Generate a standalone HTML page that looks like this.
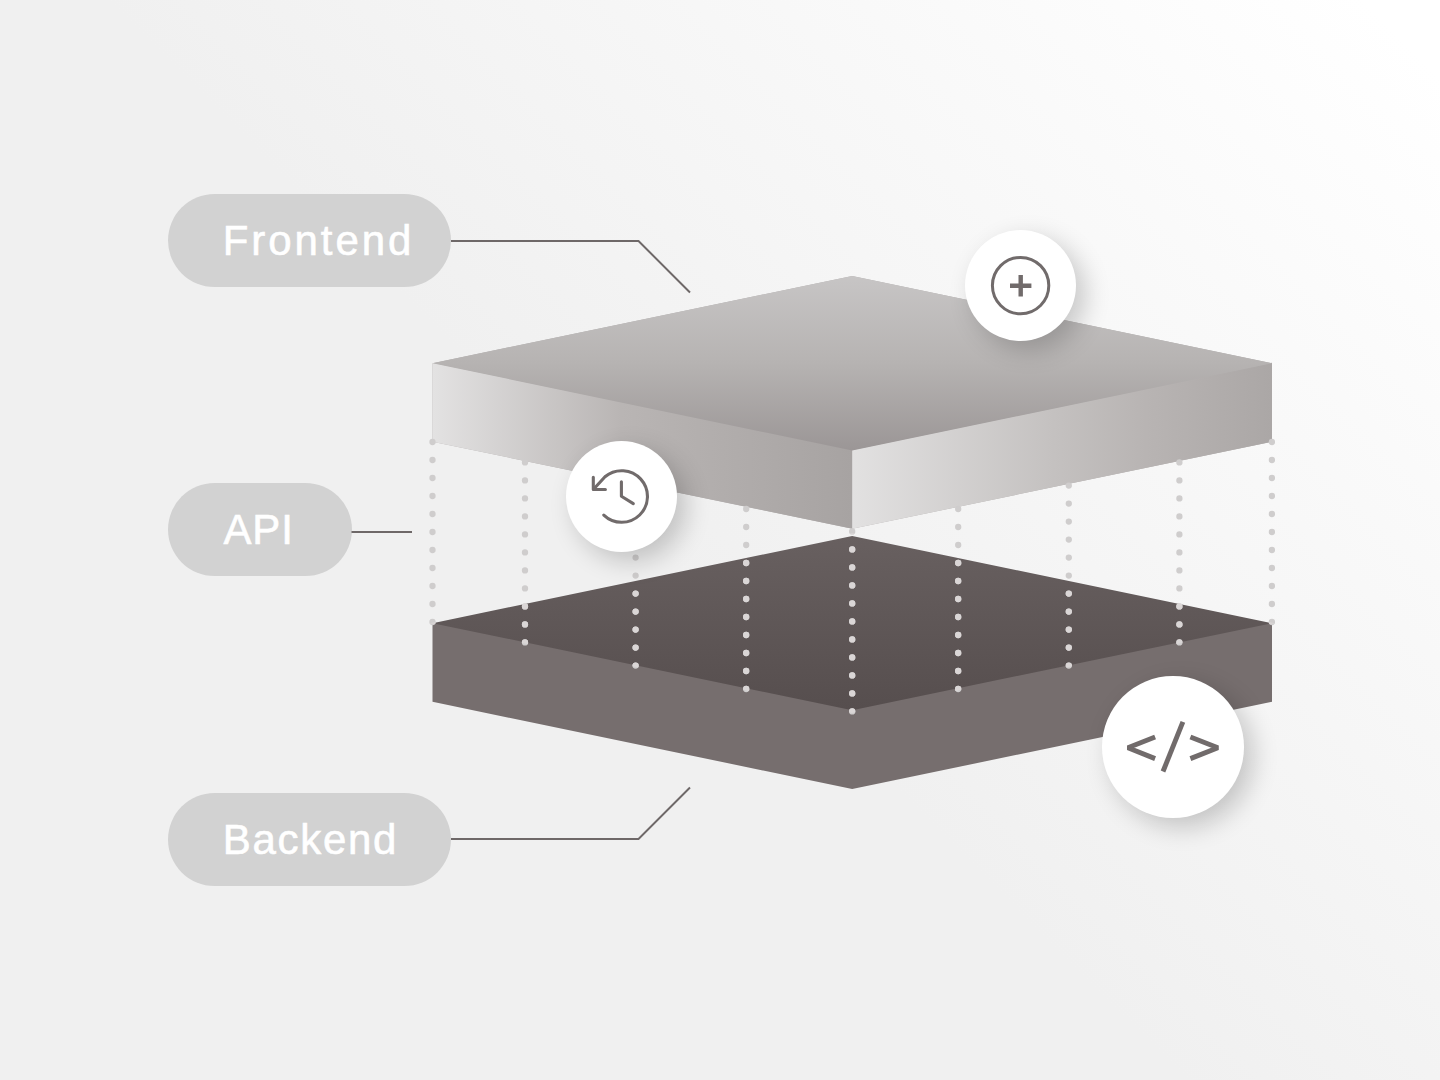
<!DOCTYPE html>
<html>
<head>
<meta charset="utf-8">
<style>
html,body{margin:0;padding:0;}
body{width:1440px;height:1080px;overflow:hidden;position:relative;
  background:linear-gradient(45deg,#f0f0f0 0%,#f0f0f0 47%,#ffffff 97%);
  font-family:"Liberation Sans",sans-serif;}
.pill{position:absolute;background:#d2d2d2;border-radius:47px;color:#fff;
  font-size:42px;line-height:93px;-webkit-text-stroke:0.6px #fff;height:93px;box-sizing:border-box;white-space:nowrap;}
.circ{position:absolute;border-radius:50%;background:#fff;
  box-shadow:9px 9px 26px rgba(0,0,0,0.20);}
.circ svg{position:absolute;left:0;top:0;}
svg.main{position:absolute;left:0;top:0;}
</style>
</head>
<body>
<div class="pill" style="left:168px;top:194px;width:283px;padding-left:54.7px;letter-spacing:2.95px;">Frontend</div>
<div class="pill" style="left:168px;top:483px;width:184px;padding-left:55.4px;letter-spacing:0.9px;">API</div>
<div class="pill" style="left:168px;top:793px;width:283px;padding-left:54.8px;letter-spacing:1.7px;">Backend</div>

<svg class="main" width="1440" height="1080" viewBox="0 0 1440 1080">
  <defs>
    <linearGradient id="topFace" x1="0" y1="276" x2="0" y2="450.5" gradientUnits="userSpaceOnUse">
      <stop offset="0" stop-color="#c7c5c5"/>
      <stop offset="0.5" stop-color="#b6b3b2"/>
      <stop offset="1" stop-color="#9b9696"/>
    </linearGradient>
    <linearGradient id="leftFace" x1="432.5" y1="0" x2="852.2" y2="0" gradientUnits="userSpaceOnUse">
      <stop offset="0" stop-color="#e3e2e2"/>
      <stop offset="0.45" stop-color="#b9b5b4"/>
      <stop offset="1" stop-color="#a7a3a2"/>
    </linearGradient>
    <linearGradient id="rightFace" x1="852.2" y1="0" x2="1272" y2="0" gradientUnits="userSpaceOnUse">
      <stop offset="0" stop-color="#e2e1e1"/>
      <stop offset="0.48" stop-color="#c4c1c0"/>
      <stop offset="0.70" stop-color="#b8b4b3"/>
      <stop offset="1" stop-color="#aba7a6"/>
    </linearGradient>
    <linearGradient id="botTop" x1="0" y1="536" x2="0" y2="710" gradientUnits="userSpaceOnUse">
      <stop offset="0" stop-color="#686060"/>
      <stop offset="1" stop-color="#564e4e"/>
    </linearGradient>
    <clipPath id="clipBot"><polygon points="852.2,533 1275,623.2 852.2,713 429.5,623.2"/></clipPath>
  </defs>

  <!-- connector lines -->
  <g fill="none" stroke="#6e6868" stroke-width="2">
    <polyline points="451,241 638.5,241 690,292.5"/>
    <polyline points="351.5,532 412,532"/>
    <polyline points="451,839 638.5,839 690,787.5"/>
  </g>

  <!-- bottom slab -->
  <polygon points="432.5,622.2 852.2,709.2 1272,622.2 1272,701.8 852.2,789 432.5,701.8" fill="#766e6e"/>
  <polygon points="852.2,536 1272,623.2 852.2,710.2 432.5,623.2" fill="url(#botTop)"/>

  <!-- top slab -->
  <polygon points="432.5,363.2 852.2,276 1272,363.2 1272,441.8 852.2,528.8 432.5,441.8" fill="#b2aeae"/>
  <polygon points="432.5,362.7 852.7,450 852.7,528.7 432.5,441.8" fill="url(#leftFace)"/>
  <polygon points="852.2,450 1272,362.7 1272,441.8 852.2,528.8" fill="url(#rightFace)"/>
  <polygon points="852.2,276 1272,363.2 852.2,450.5 432.5,363.2" fill="url(#topFace)"/>
  <!-- dots -->
  <g stroke="#cfcdcd" stroke-width="6.3" stroke-linecap="round" stroke-dasharray="0 18" fill="none">
    <line x1="432.5" y1="442.0" x2="432.5" y2="622.2"/>
    <line x1="525.0" y1="462.4" x2="525.0" y2="642.6"/>
    <line x1="635.6" y1="485.6" x2="635.6" y2="665.8"/>
    <line x1="746.2" y1="509.0" x2="746.2" y2="689.2"/>
    <line x1="852.2" y1="531.4" x2="852.2" y2="711.6"/>
    <line x1="958.2" y1="509.0" x2="958.2" y2="689.2"/>
    <line x1="1068.8" y1="485.6" x2="1068.8" y2="665.8"/>
    <line x1="1179.4" y1="462.4" x2="1179.4" y2="642.6"/>
    <line x1="1271.9" y1="442.0" x2="1271.9" y2="622.2"/>
  </g>
  <g stroke="#dad6d6" stroke-width="6.3" stroke-linecap="round" stroke-dasharray="0 18" fill="none" clip-path="url(#clipBot)">
    <line x1="432.5" y1="442.0" x2="432.5" y2="622.2"/>
    <line x1="525.0" y1="462.4" x2="525.0" y2="642.6"/>
    <line x1="635.6" y1="485.6" x2="635.6" y2="665.8"/>
    <line x1="746.2" y1="509.0" x2="746.2" y2="689.2"/>
    <line x1="852.2" y1="531.4" x2="852.2" y2="711.6"/>
    <line x1="958.2" y1="509.0" x2="958.2" y2="689.2"/>
    <line x1="1068.8" y1="485.6" x2="1068.8" y2="665.8"/>
    <line x1="1179.4" y1="462.4" x2="1179.4" y2="642.6"/>
    <line x1="1271.9" y1="442.0" x2="1271.9" y2="622.2"/>
  </g>
</svg>

<!-- plus circle -->
<div class="circ" style="left:965px;top:230px;width:111px;height:111px;">
  <svg width="111" height="111" viewBox="965 230 111 111">
    <circle cx="1020.6" cy="285.6" r="28.2" fill="none" stroke="#716b6b" stroke-width="3.0"/>
    <path d="M1010 285.7 H1031.4 M1020.7 275 V296.4" stroke="#716b6b" stroke-width="4.4" fill="none"/>
  </svg>
</div>

<!-- history circle -->
<div class="circ" style="left:566px;top:441px;width:111px;height:111px;">
  <svg width="111" height="111" viewBox="566 441 111 111">
    <g fill="none" stroke="#716b6b" stroke-width="3.1" stroke-linecap="round" stroke-linejoin="round">
      <path d="M603.8 515.1 A25.8 25.8 0 1 0 605 476.8 L594 488.8"/>
      <path d="M593.3 477.2 V489.5 H605.4"/>
      <path d="M621.4 481.7 V496.3 L633.3 503.6"/>
    </g>
  </svg>
</div>

<!-- code circle -->
<div class="circ" style="left:1102px;top:676px;width:141.5px;height:141.5px;">
  <svg width="142" height="142" viewBox="1102 676 142 142">
    <g fill="none" stroke="#716b6b" stroke-width="4.9" stroke-linecap="butt" stroke-linejoin="bevel">
      <polyline points="1155.1,737 1127.9,747.8 1155.1,758.6"/>
      <polyline points="1190.4,737 1217.9,747.8 1190.4,758.6"/>
      <line x1="1182.9" y1="721.9" x2="1163" y2="771.5"/>
    </g>
  </svg>
</div>
</body>
</html>
